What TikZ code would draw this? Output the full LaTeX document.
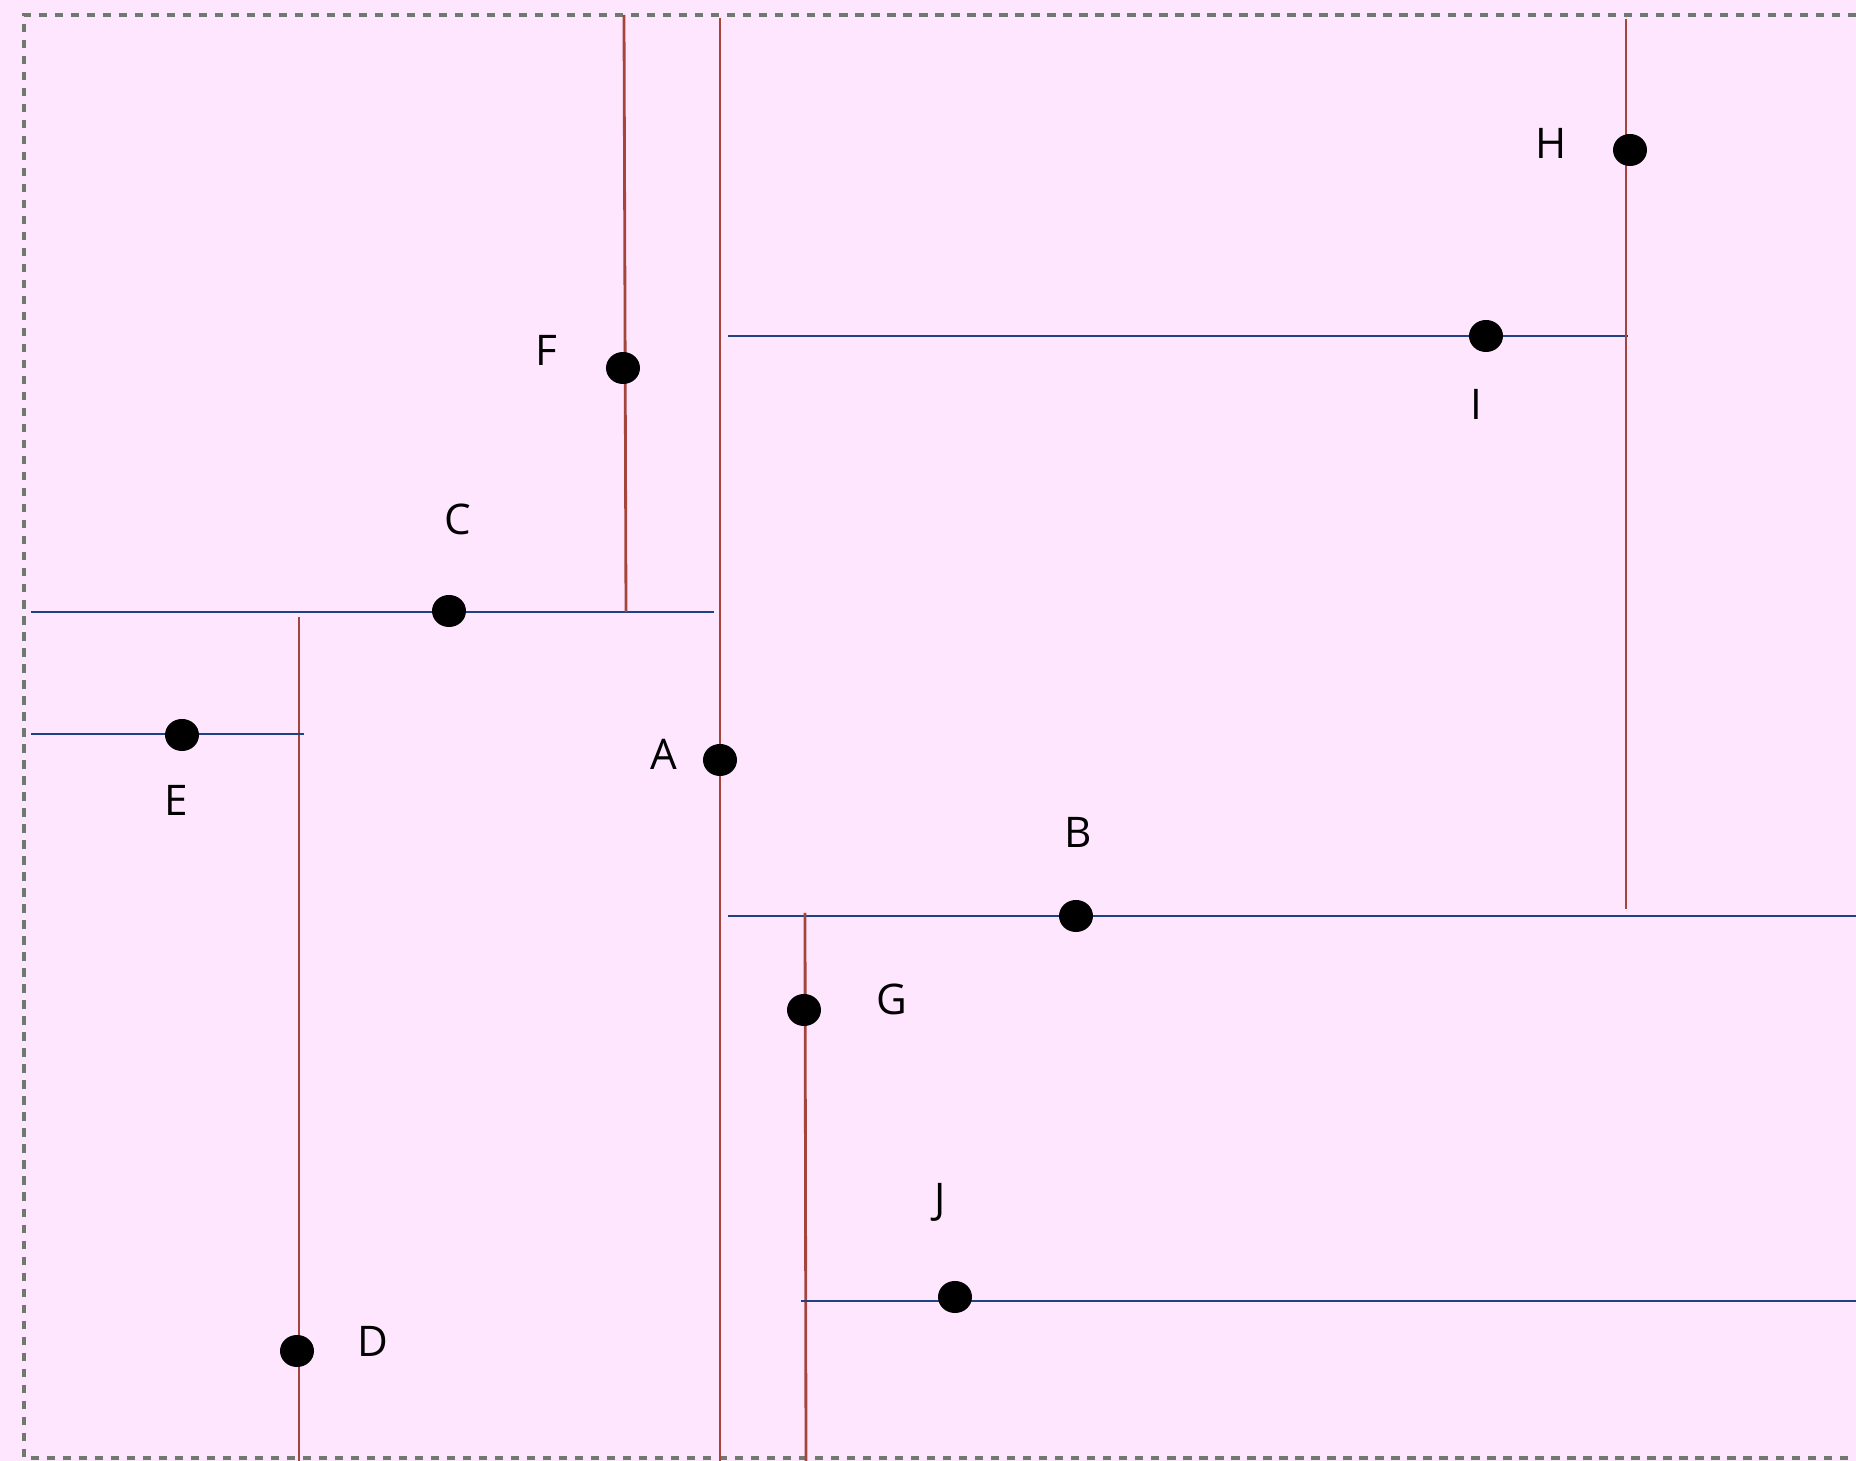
\documentclass[tikz,border=0pt]{standalone}
\usepackage{fontspec}
\setmainfont{Open Sans}
\usetikzlibrary{shapes.geometric}
\definecolor{kdPink}{HTML}{FFE6FF}
\definecolor{kdRed}{HTML}{A3453B}
\definecolor{kdBlue}{HTML}{1F4283}
\definecolor{kdFrame}{HTML}{6F7A6F}
\tikzset{
  kdpoint/.style={ellipse, fill=black, minimum width=0.34cm, minimum height=0.32cm, inner sep=0pt},
  kdlabel/.style={font=\fontsize{12}{14}\selectfont, inner sep=0pt, text height=0.3cm, text depth=0pt},
  xsplit/.style={draw=kdRed, line width=0.8pt},
  ysplit/.style={draw=kdBlue, line width=0.8pt},
  framebox/.style={draw=kdFrame, line width=0.9pt, dash pattern=on 0.083cm off 0.077cm},
}

\begin{document}
\begin{tikzpicture}[x=0.01cm,y=-0.01cm]
  \useasboundingbox (0,0) rectangle (1856,1461);
  \fill[kdPink] (0,0) rectangle (1856,1461);
  \draw[framebox] (1856,15) -- (24,15) -- (24,1458) -- (1856,1458);

  % splitting lines (x splits red, y splits blue)
  \draw[xsplit] (720,18) -- (720,1461);
  \draw[ysplit] (31,612) -- (714,612);
  \draw[xsplit] (624,15) -- (626,612);
  \draw[xsplit] (299,617) -- (299,1461);
  \draw[ysplit] (31,734) -- (304,734);
  \draw[ysplit] (728,336) -- (1628,336);
  \draw[xsplit] (1626,19) -- (1626,909);
  \draw[ysplit] (728,916) -- (1856,916);
  \draw[xsplit] (805,913) -- (806,1461);
  \draw[ysplit] (801,1301) -- (1856,1301);

  % points
  \node[kdpoint] (A) at (720,760) {};
  \node[kdpoint] (B) at (1076,916) {};
  \node[kdpoint] (C) at (449,611) {};
  \node[kdpoint] (D) at (297,1351) {};
  \node[kdpoint] (E) at (182,735) {};
  \node[kdpoint] (F) at (623,368) {};
  \node[kdpoint] (G) at (804,1010) {};
  \node[kdpoint] (H) at (1630,150) {};
  \node[kdpoint] (I) at (1486,336) {};
  \node[kdpoint] (J) at (955,1297) {};

  % labels
  \node[kdlabel] (labA) at (664,754) {A};
  \node[kdlabel] (labB) at (1078,832) {B};
  \node[kdlabel] (labC) at (458,519) {C};
  \node[kdlabel] (labD) at (373,1341) {D};
  \node[kdlabel] (labE) at (176,800) {E};
  \node[kdlabel] (labF) at (546,350) {F};
  \node[kdlabel] (labG) at (892,999) {G};
  \node[kdlabel] (labH) at (1551,143) {H};
  \node[kdlabel] (labI) at (1476,404) {I};
  \node[kdlabel] (labJ) at (940,1198) {J};
\end{tikzpicture}
\end{document}
